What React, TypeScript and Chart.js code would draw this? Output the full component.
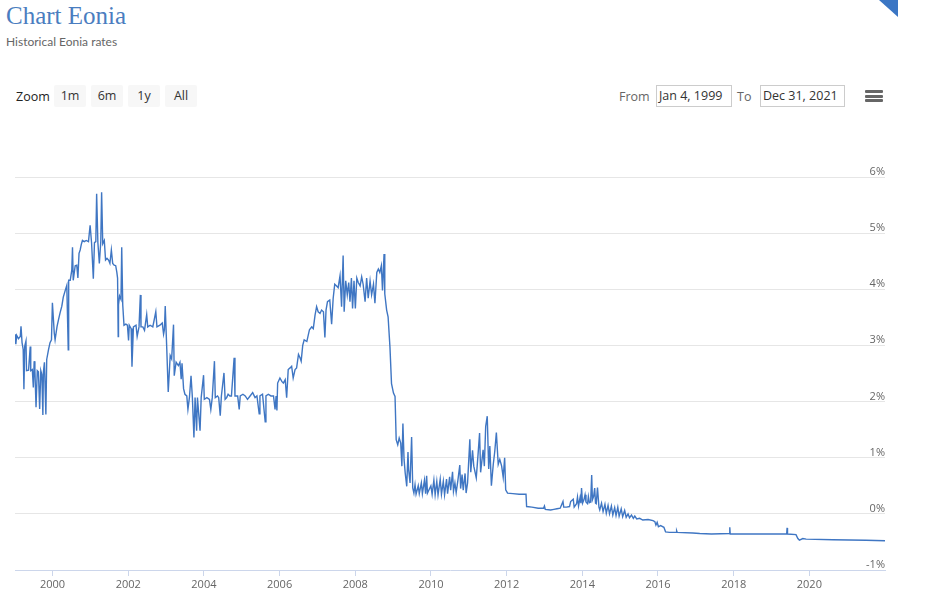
import React, { useEffect, useRef } from "react";
import { Chart, registerables } from "chart.js";

Chart.register(...registerables);

const eonia1999to2000: [string, number][] = [
  ["1999-01-04", 3.2], ["1999-01-12", 3.02], ["1999-01-20", 3.18], ["1999-02-06", 3.12], ["1999-02-24", 3.16],
  ["1999-03-03", 3.34], ["1999-03-13", 3.05], ["1999-03-24", 2.93], ["1999-03-31", 2.22], ["1999-04-08", 2.99],
  ["1999-04-20", 3.08], ["1999-04-25", 2.55], ["1999-05-15", 2.56], ["1999-05-31", 2.98], ["1999-06-05", 2.55],
  ["1999-06-20", 2.57], ["1999-06-30", 2.25], ["1999-07-08", 2.72], ["1999-07-15", 2.56], ["1999-07-26", 1.9],
  ["1999-08-07", 2.55], ["1999-08-18", 2.53], ["1999-08-30", 1.87], ["1999-09-10", 2.55], ["1999-09-20", 2.48],
  ["1999-09-30", 1.76], ["1999-10-05", 2.52], ["1999-10-15", 2.7], ["1999-10-29", 1.77], ["1999-11-06", 2.75],
  ["1999-11-24", 2.93], ["1999-12-08", 3.05], ["1999-12-22", 3.1], ["1999-12-31", 3.76], ["2000-01-18", 3.22],
  ["2000-01-26", 3.1], ["2000-02-14", 3.34], ["2000-02-28", 3.46], ["2000-03-14", 3.58], ["2000-03-31", 3.7],
  ["2000-04-14", 3.86], ["2000-05-03", 3.98], ["2000-05-18", 4.07], ["2000-06-01", 2.92], ["2000-06-05", 4.16],
  ["2000-06-20", 4.16], ["2000-07-05", 4.34], ["2000-07-12", 4.75], ["2000-07-19", 4.16], ["2000-08-07", 4.42],
  ["2000-08-22", 4.43], ["2000-09-02", 4.2], ["2000-09-13", 4.64], ["2000-09-24", 4.7], ["2000-10-05", 4.8],
  ["2000-10-16", 4.87], ["2000-11-03", 4.85], ["2000-11-21", 4.87], ["2000-12-13", 4.85], ["2000-12-29", 5.14],
];

const eonia2001to2003: [string, number][] = [
  ["2001-01-12", 4.83], ["2001-01-29", 4.19], ["2001-02-09", 4.83], ["2001-02-22", 4.85], ["2001-03-02", 5.7],
  ["2001-03-14", 4.83], ["2001-03-28", 4.46], ["2001-04-11", 4.85], ["2001-04-19", 5.73], ["2001-04-30", 4.81],
  ["2001-05-15", 4.87], ["2001-05-27", 4.52], ["2001-06-10", 4.55], ["2001-06-25", 4.52], ["2001-07-08", 4.46],
  ["2001-07-22", 4.7], ["2001-08-04", 4.46], ["2001-08-18", 4.43], ["2001-09-02", 4.42], ["2001-09-13", 4.3],
  ["2001-09-20", 4.2], ["2001-09-26", 3.16], ["2001-09-29", 3.72], ["2001-10-09", 3.88], ["2001-10-23", 3.82],
  ["2001-10-30", 4.75], ["2001-11-09", 3.72], ["2001-11-21", 3.36], ["2001-12-09", 3.38], ["2001-12-24", 3.36],
  ["2002-01-04", 3.09], ["2002-01-11", 3.36], ["2002-01-29", 3.3], ["2002-02-06", 2.62], ["2002-02-20", 3.33],
  ["2002-03-17", 3.36], ["2002-03-28", 3.16], ["2002-04-15", 3.33], ["2002-04-28", 3.9], ["2002-05-04", 3.33],
  ["2002-05-22", 3.33], ["2002-06-07", 3.27], ["2002-06-28", 3.55], ["2002-07-08", 3.33], ["2002-07-31", 3.36],
  ["2002-08-26", 3.33], ["2002-09-24", 3.6], ["2002-10-05", 3.33], ["2002-11-03", 3.36], ["2002-11-25", 3.4],
  ["2002-12-08", 3.2], ["2002-12-16", 3.28], ["2002-12-24", 3.7], ["2003-01-08", 2.93], ["2003-01-22", 2.17],
  ["2003-02-10", 2.82], ["2003-02-24", 2.76], ["2003-03-14", 3.37], ["2003-03-21", 2.46], ["2003-04-08", 2.7],
  ["2003-04-30", 2.64], ["2003-05-15", 2.7], ["2003-05-27", 2.4], ["2003-06-04", 2.68], ["2003-06-19", 2.23],
  ["2003-07-02", 2.13], ["2003-07-20", 2.1], ["2003-07-31", 1.86], ["2003-08-15", 2.08], ["2003-08-30", 2.46],
  ["2003-09-12", 2.07], ["2003-09-27", 1.36], ["2003-10-08", 2.07], ["2003-10-23", 1.48], ["2003-10-31", 2.07],
  ["2003-11-25", 1.48], ["2003-12-06", 2.07], ["2003-12-29", 2.47],
];

const eonia2004to2006: [string, number][] = [
  ["2004-01-05", 2.04], ["2004-01-30", 2.07], ["2004-02-24", 2.04], ["2004-03-08", 1.86], ["2004-03-22", 2.07],
  ["2004-04-12", 2.72], ["2004-04-20", 2.07], ["2004-05-12", 2.1], ["2004-05-23", 2.07], ["2004-06-07", 1.75],
  ["2004-06-18", 2.1], ["2004-07-13", 2.51], ["2004-07-24", 2.04], ["2004-08-08", 2.07], ["2004-08-22", 2.13],
  ["2004-09-08", 2.1], ["2004-09-23", 2.1], ["2004-10-19", 2.78], ["2004-10-27", 2.1], ["2004-11-22", 2.1],
  ["2004-12-07", 1.86], ["2004-12-17", 2.1], ["2005-01-12", 2.13], ["2005-02-03", 2.1], ["2005-02-25", 2.04],
  ["2005-03-22", 2.1], ["2005-04-16", 2.16], ["2005-05-09", 2.07], ["2005-05-27", 2.1], ["2005-06-18", 1.78],
  ["2005-06-25", 2.1], ["2005-07-20", 2.13], ["2005-08-15", 1.64], ["2005-08-22", 2.1], ["2005-09-14", 2.13],
  ["2005-10-09", 2.1], ["2005-11-03", 2.1], ["2005-11-18", 1.86], ["2005-11-28", 2.1], ["2005-12-06", 1.84],
  ["2005-12-13", 2.33], ["2006-01-04", 2.42], ["2006-01-22", 2.36], ["2006-02-06", 2.33], ["2006-02-24", 2.39],
  ["2006-03-10", 2.07], ["2006-03-25", 2.57], ["2006-04-12", 2.6], ["2006-04-27", 2.63], ["2006-05-12", 2.42],
  ["2006-05-30", 2.57], ["2006-06-14", 2.6], ["2006-07-02", 2.84], ["2006-07-17", 2.78], ["2006-07-28", 2.72],
  ["2006-08-12", 3.0], ["2006-08-26", 3.1], ["2006-09-21", 3.07], ["2006-10-16", 3.28], ["2006-11-07", 3.33],
  ["2006-11-22", 3.3], ["2006-12-09", 3.54], ["2006-12-24", 3.69],
];

const eonia2007to2009: [string, number][] = [
  ["2007-01-08", 3.6], ["2007-01-26", 3.57], ["2007-02-10", 3.63], ["2007-02-28", 3.6], ["2007-03-14", 3.14],
  ["2007-03-25", 3.63], ["2007-04-08", 3.78], ["2007-04-30", 3.81], ["2007-05-18", 3.38], ["2007-06-02", 3.84],
  ["2007-06-17", 4.09], ["2007-07-05", 4.06], ["2007-07-20", 4.03], ["2007-08-07", 4.24], ["2007-08-22", 3.69],
  ["2007-09-06", 4.6], ["2007-09-16", 3.6], ["2007-10-01", 4.15], ["2007-10-16", 3.9], ["2007-10-30", 4.12],
  ["2007-11-11", 3.78], ["2007-11-25", 4.2], ["2007-12-06", 3.66], ["2007-12-20", 4.15], ["2008-01-02", 3.66],
  ["2008-01-16", 4.2], ["2008-01-30", 4.12], ["2008-02-17", 4.06], ["2008-03-03", 4.22], ["2008-03-17", 4.09],
  ["2008-04-05", 3.78], ["2008-04-20", 4.2], ["2008-05-05", 3.84], ["2008-05-23", 4.15], ["2008-06-07", 3.9],
  ["2008-06-25", 4.09], ["2008-07-09", 3.75], ["2008-07-27", 4.3], ["2008-08-11", 4.36], ["2008-08-25", 4.3],
  ["2008-09-09", 4.42], ["2008-09-20", 3.98], ["2008-10-05", 4.63], ["2008-10-12", 3.92], ["2008-10-30", 3.63],
  ["2008-11-13", 3.51], ["2008-12-01", 2.97], ["2008-12-16", 2.32], ["2009-01-04", 2.15], ["2009-01-19", 2.09],
  ["2009-01-30", 1.32], ["2009-02-14", 1.23], ["2009-02-28", 1.35], ["2009-03-15", 1.26], ["2009-03-26", 0.85],
  ["2009-04-05", 1.61], ["2009-04-16", 0.97], ["2009-04-27", 0.73], ["2009-05-12", 0.49], ["2009-05-24", 1.1],
  ["2009-05-30", 0.79], ["2009-06-13", 0.55], ["2009-06-28", 1.37], ["2009-07-09", 0.46], ["2009-07-20", 0.37],
  ["2009-07-31", 0.52], ["2009-08-10", 0.35], ["2009-08-31", 0.5], ["2009-09-10", 0.36], ["2009-09-30", 0.55],
  ["2009-10-10", 0.36], ["2009-10-30", 0.6], ["2009-11-10", 0.36], ["2009-11-20", 0.68], ["2009-11-28", 0.37],
  ["2009-12-31", 0.5],
];

const eonia2010to2012: [string, number][] = [
  ["2010-01-12", 0.35], ["2010-01-29", 0.6], ["2010-02-10", 0.34], ["2010-02-26", 0.58], ["2010-03-10", 0.34],
  ["2010-03-31", 0.62], ["2010-04-12", 0.35], ["2010-04-30", 0.58], ["2010-05-12", 0.34], ["2010-05-31", 0.62],
  ["2010-06-10", 0.36], ["2010-06-30", 0.66], ["2010-07-10", 0.42], ["2010-07-28", 0.75], ["2010-08-06", 0.4],
  ["2010-08-20", 0.55], ["2010-09-01", 0.38], ["2010-09-18", 0.6], ["2010-10-06", 0.87], ["2010-10-14", 0.45],
  ["2010-10-28", 0.7], ["2010-11-08", 0.42], ["2010-11-26", 0.72], ["2010-12-06", 0.37], ["2010-12-20", 0.55],
  ["2011-01-11", 1.33], ["2011-01-20", 0.74], ["2011-02-06", 1.13], ["2011-02-18", 0.85], ["2011-03-14", 0.64],
  ["2011-03-31", 1.05], ["2011-04-15", 1.44], ["2011-04-25", 0.74], ["2011-05-19", 1.14], ["2011-05-31", 0.85],
  ["2011-06-13", 1.56], ["2011-06-28", 1.74], ["2011-07-12", 0.8], ["2011-07-23", 1.21], ["2011-08-07", 0.5],
  ["2011-08-25", 0.88], ["2011-09-09", 1.12], ["2011-09-24", 1.45], ["2011-10-12", 0.88], ["2011-10-27", 0.97],
  ["2011-11-14", 0.85], ["2011-11-29", 0.65], ["2011-12-13", 1.0], ["2011-12-23", 0.43], ["2012-01-10", 0.37],
  ["2012-03-01", 0.36], ["2012-05-01", 0.35], ["2012-07-06", 0.35], ["2012-07-12", 0.13], ["2012-09-01", 0.12],
  ["2012-11-01", 0.1], ["2012-12-22", 0.1], ["2012-12-31", 0.14],
];

const eonia2013to2015: [string, number][] = [
  ["2013-01-08", 0.08], ["2013-03-01", 0.07], ["2013-04-01", 0.08], ["2013-05-01", 0.09], ["2013-06-01", 0.1],
  ["2013-06-28", 0.22], ["2013-07-05", 0.12], ["2013-08-01", 0.12], ["2013-08-30", 0.13], ["2013-09-10", 0.22],
  ["2013-10-05", 0.26], ["2013-10-14", 0.12], ["2013-11-06", 0.18], ["2013-11-15", 0.3], ["2013-11-25", 0.14],
  ["2013-12-10", 0.29], ["2013-12-18", 0.19], ["2013-12-24", 0.46], ["2014-01-03", 0.19], ["2014-01-16", 0.25],
  ["2014-01-27", 0.34], ["2014-02-05", 0.21], ["2014-02-20", 0.18], ["2014-02-28", 0.31], ["2014-03-10", 0.2],
  ["2014-03-22", 0.21], ["2014-04-01", 0.69], ["2014-04-08", 0.25], ["2014-04-20", 0.31], ["2014-04-30", 0.46],
  ["2014-05-08", 0.19], ["2014-05-15", 0.18], ["2014-05-27", 0.47], ["2014-06-10", 0.12], ["2014-06-18", 0.07],
  ["2014-07-05", 0.19], ["2014-07-20", 0.04], ["2014-08-07", 0.17], ["2014-08-20", 0.01], ["2014-09-06", 0.15],
  ["2014-09-20", 0.0], ["2014-10-08", 0.14], ["2014-10-22", -0.02], ["2014-11-09", 0.11], ["2014-11-22", -0.03],
  ["2014-12-09", 0.12], ["2014-12-22", -0.04], ["2015-01-11", 0.09], ["2015-01-25", -0.05], ["2015-02-13", 0.06],
  ["2015-02-28", -0.06], ["2015-03-18", 0.0], ["2015-04-01", -0.07], ["2015-04-20", -0.02], ["2015-05-08", -0.08],
  ["2015-05-22", -0.04], ["2015-06-10", -0.09], ["2015-07-08", -0.08], ["2015-08-07", -0.11], ["2015-09-27", -0.1],
  ["2015-11-14", -0.12], ["2015-12-02", -0.14], ["2015-12-12", -0.2], ["2015-12-24", -0.15],
];

const eonia2016to2021: [string, number][] = [
  ["2016-01-05", -0.23], ["2016-01-26", -0.21], ["2016-02-27", -0.24], ["2016-03-14", -0.32], ["2016-04-20", -0.33],
  ["2016-06-25", -0.33], ["2016-06-29", -0.3], ["2016-07-05", -0.33], ["2016-12-01", -0.34], ["2017-02-07", -0.35],
  ["2017-06-01", -0.36], ["2017-11-20", -0.35], ["2017-11-24", -0.24], ["2017-11-28", -0.36], ["2018-06-01", -0.36],
  ["2018-12-31", -0.36], ["2019-05-27", -0.36], ["2019-05-31", -0.25], ["2019-06-04", -0.36], ["2019-08-25", -0.37],
  ["2019-09-12", -0.44], ["2019-09-27", -0.47], ["2019-10-30", -0.44], ["2019-12-01", -0.45], ["2020-08-15", -0.46],
  ["2021-07-01", -0.47], ["2021-12-31", -0.48],
];

const xTickYears = [2000, 2002, 2004, 2006, 2008, 2010, 2012, 2014, 2016, 2018, 2020];
const yTickValues = [-1, 0, 1, 2, 3, 4, 5, 6];
const rangeFrom = "1999-01-04";
const rangeTo = "2021-12-31";
const zoomButtons = ["1m", "6m", "1y", "All"];

const allObservations = [
  ...eonia1999to2000,
  ...eonia2001to2003,
  ...eonia2004to2006,
  ...eonia2007to2009,
  ...eonia2010to2012,
  ...eonia2013to2015,
  ...eonia2016to2021,
];

const yLabelPlugin = {
  id: "yLabelsAbove",
  afterDraw(chart: any) {
    const { ctx, chartArea, scales } = chart;
    const y = scales.y;
    ctx.save();
    ctx.font = "11px 'Open Sans'";
    ctx.fillStyle = "#666666";
    ctx.textAlign = "right";
    ctx.textBaseline = "alphabetic";
    y.ticks.forEach((t: any) => {
      const py = y.getPixelForValue(t.value);
      ctx.fillText(`${t.value}%`, chartArea.right, py - 2);
    });
    ctx.restore();
  },
};

const fmtDate = (s: string) => {
  const d = new Date(Date.parse(s));
  const m = ["Jan", "Feb", "Mar", "Apr", "May", "Jun", "Jul", "Aug", "Sep", "Oct", "Nov", "Dec"][d.getUTCMonth()];
  return `${m} ${d.getUTCDate()}, ${d.getUTCFullYear()}`;
};

export default function App() {
  const canvasRef = useRef<HTMLCanvasElement | null>(null);

  useEffect(() => {
    if (!canvasRef.current) return;
    const chart = new Chart(canvasRef.current, {
      type: "line",
      data: {
        datasets: [
          {
            label: "Eonia",
            data: allObservations.map(([d, v]) => ({ x: Date.parse(d), y: v })),
            borderColor: "#3f76c3",
            borderWidth: 1.4,
            pointRadius: 0,
            tension: 0,
            fill: false,
          },
        ],
      },
      options: {
        animation: false,
        responsive: false,
        maintainAspectRatio: false,
        layout: { padding: { left: 15, right: 43, top: 27, bottom: 0 } },
        plugins: { legend: { display: false }, tooltip: { enabled: false } },
        scales: {
          x: {
            type: "linear",
            min: Date.parse(rangeFrom),
            max: Date.parse(rangeTo),
            afterBuildTicks: (scale: any) => {
              scale.ticks = xTickYears.map((yr) => ({ value: Date.UTC(yr, 0, 1) }));
            },
            afterFit: (scale: any) => {
              scale.height = 30;
            },
            grid: { drawOnChartArea: false, drawTicks: true, tickLength: 6, color: "#ccd6eb" },
            border: { display: true, color: "#ccd6eb" },
            ticks: {
              autoSkip: false,
              maxRotation: 0,
              padding: 2,
              color: "#666666",
              font: { family: "'Open Sans'", size: 11 },
              callback: (v: any) => String(new Date(v).getUTCFullYear()),
            },
          },
          y: {
            type: "linear",
            min: -1,
            max: 6,
            afterBuildTicks: (scale: any) => {
              scale.ticks = yTickValues.map((v) => ({ value: v }));
            },
            afterFit: (scale: any) => {
              scale.width = 0;
            },
            grid: {
              drawTicks: false,
              color: (c: any) => (c.tick && c.tick.value === -1 ? "rgba(0,0,0,0)" : "#e6e6e6"),
            },
            border: { display: false },
            ticks: { display: false },
          },
        },
      },
      plugins: [yLabelPlugin],
    });
    return () => chart.destroy();
  }, []);

  const btn: React.CSSProperties = {
    position: "absolute",
    top: 85,
    width: 32,
    height: 22,
    background: "#f7f7f7",
    color: "#333",
    fontFamily: "'Open Sans'",
    fontSize: 12.5,
    lineHeight: "22px",
    textAlign: "center",
    borderRadius: 2,
  };
  const box: React.CSSProperties = {
    position: "absolute",
    top: 85,
    height: 20,
    border: "1px solid #cccccc",
    color: "#333",
    fontFamily: "'Open Sans'",
    fontSize: 12.5,
    lineHeight: "20px",
    paddingLeft: 2,
    boxSizing: "content-box",
  };
  const label: React.CSSProperties = {
    position: "absolute",
    top: 86,
    lineHeight: "22px",
    fontFamily: "'Open Sans'",
    fontSize: 12.5,
  };

  return (
    <div style={{ position: "absolute", left: 0, top: 0, width: 928, height: 600, background: "#fff", overflow: "hidden" }}>
      <div
        style={{
          position: "absolute",
          left: 6,
          top: 3,
          fontFamily: "'Liberation Serif'",
          fontSize: 25,
          lineHeight: "25px",
          color: "#4a7dc0",
          whiteSpace: "nowrap",
        }}
      >
        Chart Eonia
      </div>
      <div
        style={{
          position: "absolute",
          left: 6,
          top: 36,
          fontFamily: "Lato",
          fontSize: 12,
          lineHeight: "12px",
          color: "#666",
          whiteSpace: "nowrap",
        }}
      >
        Historical Eonia rates
      </div>
      <div
        style={{
          position: "absolute",
          left: 879,
          top: 0,
          width: 19,
          height: 17,
          background: "#3b76c4",
          clipPath: "polygon(0 0, 100% 0, 100% 100%)",
        }}
      />
      <div style={{ ...label, left: 16, color: "#222" }}>Zoom</div>
      {zoomButtons.map((b, i) => (
        <div key={b} style={{ ...btn, left: 54 + i * 37 }}>
          {b}
        </div>
      ))}
      <div style={{ ...label, left: 619, color: "#666" }}>From</div>
      <div style={{ ...box, left: 656, width: 72 }}>{fmtDate(rangeFrom)}</div>
      <div style={{ ...label, left: 737, color: "#666" }}>To</div>
      <div style={{ ...box, left: 760, width: 81 }}>{fmtDate(rangeTo)}</div>
      {[0, 1, 2].map((i) => (
        <div
          key={i}
          style={{ position: "absolute", left: 865, top: 90 + i * 4.5, width: 18, height: 3, background: "#666", borderRadius: 1 }}
        />
      ))}
      <canvas
        ref={canvasRef}
        width={928}
        height={450}
        style={{ position: "absolute", left: 0, top: 150, width: 928, height: 450 }}
      />
    </div>
  );
}
